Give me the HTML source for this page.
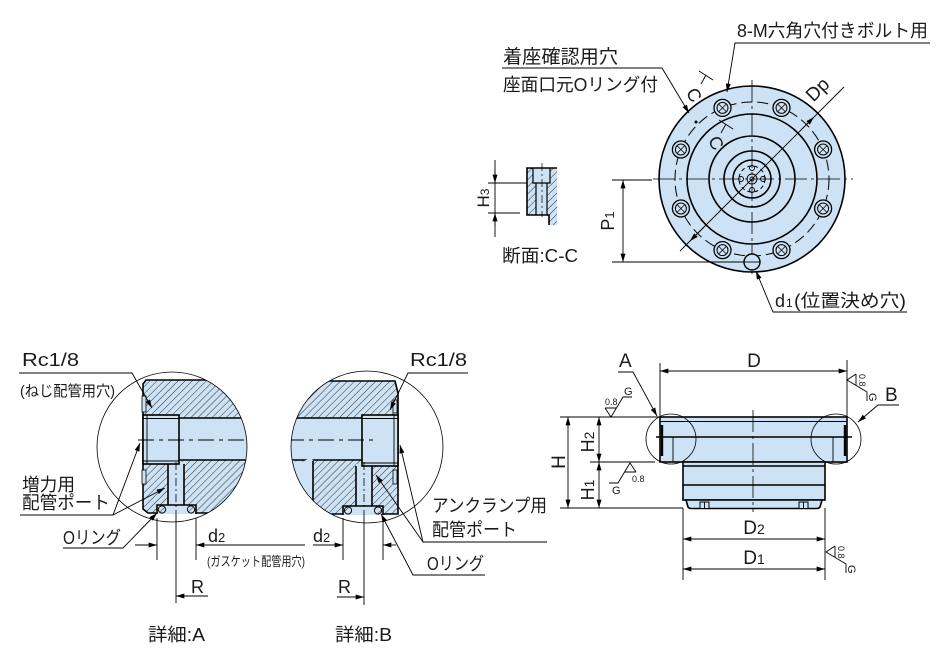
<!DOCTYPE html>
<html><head><meta charset="utf-8"><style>
html,body{margin:0;padding:0;background:#fff;}
svg{display:block;}
.t{stroke:#000;stroke-width:.9;fill:none}
.k{stroke:#000;stroke-width:1.6;fill:none}
.c{stroke:#000;stroke-width:.8;fill:none;stroke-dasharray:22 4 3 4}
text{fill:#1a1a1a;font-family:"Liberation Sans","Noto Sans CJK JP",sans-serif}
</style></head><body>
<svg width="950" height="658" viewBox="0 0 950 658" xmlns="http://www.w3.org/2000/svg">
<defs>
<marker id="ar" viewBox="0 0 10 6" refX="10" refY="3" markerWidth="9" markerHeight="5" markerUnits="userSpaceOnUse" orient="auto-start-reverse"><path d="M0,0L10,3L0,6z" fill="#000"/></marker>
<pattern id="h" width="5" height="5" patternUnits="userSpaceOnUse" patternTransform="rotate(45)"><rect width="5" height="5" fill="#cde3f5"/><line x1="0" y1="0" x2="0" y2="5" stroke="#000" stroke-width="0.8"/></pattern>
<clipPath id="ca"><circle cx="172" cy="447" r="75"/></clipPath>
<clipPath id="cb"><circle cx="367" cy="447" r="76"/></clipPath>
<g id="bolt"><circle r="8.5" fill="#cde3f5" stroke="#000" stroke-width="1.3"/><circle r="5.5" fill="none" stroke="#000" stroke-width="1"/><path d="M-3.5,-3.5L3.5,3.5M-3.5,3.5L3.5,-3.5" stroke="#000" stroke-width=".8"/></g>
<g id="sf"><path d="M-6,-9H5.4M-6,-9L0,0L12,-20H21" fill="none" stroke="#000" stroke-width=".9"/></g>
</defs>

<!-- ============ PLAN VIEW ============ -->
<circle cx="752" cy="179" r="93" fill="#cde3f5" stroke="#000" stroke-width="1.6"/>
<circle cx="752" cy="179" r="77" fill="none" stroke="#000" stroke-width="1" stroke-dasharray="11 5"/>
<circle cx="752" cy="179" r="65" class="k"/>
<circle cx="752" cy="179" r="43" class="k"/>
<circle cx="752" cy="179" r="28" class="k"/>
<circle cx="752" cy="179" r="19" class="k"/>
<circle cx="752" cy="179" r="13" fill="none" stroke="#000" stroke-width="1" stroke-dasharray="4 3"/>
<circle cx="741" cy="179" r="2.5" class="t"/><circle cx="763" cy="179" r="2.5" class="t"/>
<circle cx="752" cy="168" r="2.5" class="t"/><circle cx="752" cy="190" r="2.5" class="t"/>
<circle cx="752" cy="179" r="5" class="t"/>
<circle cx="752" cy="179" r="2" class="t"/>
<line x1="653" y1="179" x2="853" y2="179" class="c"/>
<line x1="752" y1="80" x2="752" y2="276" class="c"/>
<use href="#bolt" x="781.5" y="107.9"/>
<use href="#bolt" x="823.1" y="149.5"/>
<use href="#bolt" x="823.1" y="208.5"/>
<use href="#bolt" x="781.5" y="250.1"/>
<use href="#bolt" x="722.5" y="107.9"/>
<use href="#bolt" x="680.9" y="149.5"/>
<use href="#bolt" x="680.9" y="208.5"/>
<use href="#bolt" x="722.5" y="250.1"/>
<circle cx="752" cy="262" r="8" fill="#cde3f5" stroke="#000" stroke-width="1.4"/>
<line x1="744" y1="262" x2="760" y2="262" class="t"/>
<!-- Dp -->
<line x1="844" y1="87" x2="680" y2="251" class="t"/>
<line x1="800" y1="131" x2="814" y2="117" class="t" marker-end="url(#ar)"/>
<line x1="704" y1="227" x2="690" y2="241" class="t" marker-end="url(#ar)"/>
<text transform="translate(822,94) rotate(-45)" font-size="19" text-anchor="middle">Dp</text>
<!-- C marks -->
<path d="M699,71 L713,80 M706,75 L701,84" class="t"/>
<text transform="translate(694,95) rotate(60)" font-size="18" text-anchor="middle" dy="6">C</text>
<path d="M719,120 L733,129 M726,124 L721,133" class="t"/>
<text transform="translate(716,143) rotate(60)" font-size="18" text-anchor="middle" dy="6">C</text>
<circle cx="696" cy="122" r="1.5" fill="#000"/>
<!-- P1 -->
<line x1="612" y1="180" x2="652" y2="180" class="t"/>
<line x1="612" y1="262" x2="744" y2="262" class="t"/>
<line x1="623" y1="180" x2="623" y2="262" class="t" marker-start="url(#ar)" marker-end="url(#ar)"/>
<text transform="translate(614,221) rotate(-90)" font-size="18" text-anchor="middle">P<tspan font-size="13">1</tspan></text>
<!-- leaders top -->
<polyline points="502,68 662,68 689,113" class="t" marker-end="url(#ar)"/>
<text x="503" y="63" font-size="19" textLength="115" lengthAdjust="spacingAndGlyphs">着座確認用穴</text>
<text x="503" y="91" font-size="18" textLength="155" lengthAdjust="spacingAndGlyphs">座面口元Oリング付</text>
<polyline points="930,43 735,43 727,92" class="t" marker-end="url(#ar)"/>
<text x="737" y="37" font-size="18" textLength="191" lengthAdjust="spacingAndGlyphs">8-M六角穴付きボルト用</text>
<polyline points="907,312 773,312 756,271" class="t" marker-end="url(#ar)"/>
<text x="775" y="307" font-size="18">d</text>
<text x="786" y="307" font-size="12">1</text>
<text x="794" y="307" font-size="18" textLength="112" lengthAdjust="spacingAndGlyphs">(位置決め穴)</text>

<!-- C-C section -->
<path d="M527,168 H533 V183 H536 V215 H527 Z" fill="url(#h)"/>
<path d="M550,168 H557 V225 H549 V215 H547 V183 H550 Z" fill="url(#h)"/>
<rect x="533" y="168" width="17" height="15" fill="#cde3f5"/>
<rect x="536" y="183" width="11" height="32" fill="#cde3f5"/>
<path d="M557,168 H527 V215 H549 V225" class="k"/>
<path d="M533,168 V183 H550 V168 M536,183 V215 M547,183 V215" fill="none" stroke="#000" stroke-width="1.2"/>
<line x1="542" y1="163" x2="542" y2="217" stroke="#000" stroke-width=".7" stroke-dasharray="8 3 2 3"/>
<line x1="495" y1="160" x2="495" y2="237" class="t"/>
<line x1="495" y1="170" x2="495" y2="183" class="t" marker-end="url(#ar)"/>
<line x1="495" y1="226" x2="495" y2="213" class="t" marker-end="url(#ar)"/>
<line x1="488" y1="183" x2="527" y2="183" class="t"/>
<line x1="488" y1="213" x2="520" y2="213" class="t"/>
<text transform="translate(489,198) rotate(-90)" font-size="17" text-anchor="middle">H<tspan font-size="12">3</tspan></text>
<text x="502" y="262" font-size="18" textLength="76" lengthAdjust="spacingAndGlyphs">断面:C-C</text>

<!-- ============ DETAIL A ============ -->
<g clip-path="url(#ca)">
<path d="M146,380 H260 V513 H148 L143,509 V384 Z" fill="url(#h)" stroke="#000" stroke-width="1.6"/>
<rect x="179" y="418" width="90" height="42" fill="#cde3f5"/>
<path d="M179,418 H260 M179,460 H260" class="k"/>
<rect x="142" y="396" width="4" height="16" fill="#cde3f5" stroke="#000" stroke-width=".8"/>
<rect x="142" y="470" width="4" height="14" fill="#cde3f5" stroke="#000" stroke-width=".8"/>
<rect x="168" y="462" width="16" height="45" fill="#cde3f5"/>
<path d="M168,464 V506 M184,464 V506" class="k"/>
<rect x="143" y="415" width="36" height="49" fill="#cde3f5" stroke="#000" stroke-width="1.6"/>
<path d="M147,415 V464 M143,418.5 H179 M143,461 H179" class="t"/>
<rect x="157" y="505" width="39" height="9" fill="#cde3f5"/>
<path d="M157,514 V505 H196 V514" class="k"/>
<circle cx="162" cy="509.5" r="3.6" fill="url(#h)" stroke="#000" stroke-width="1"/>
<circle cx="191" cy="509.5" r="3.6" fill="url(#h)" stroke="#000" stroke-width="1"/>
<line x1="138" y1="440" x2="250" y2="440" stroke="#000" stroke-width="1" stroke-dasharray="16 5 4 5"/>
<line x1="176" y1="462" x2="176" y2="513" stroke="#000" stroke-width=".8" stroke-dasharray="8 3 2 3"/>
</g>
<circle cx="172" cy="447" r="75" fill="none" stroke="#000" stroke-width=".8"/>
<text x="22" y="366" font-size="18" textLength="57" lengthAdjust="spacingAndGlyphs">Rc1/8</text>
<text x="20" y="396" font-size="15" textLength="95" lengthAdjust="spacingAndGlyphs">(ねじ配管用穴)</text>
<polyline points="19,373 132,373 152,408" class="t" marker-end="url(#ar)"/>
<text x="22" y="491" font-size="18" textLength="53" lengthAdjust="spacingAndGlyphs">増力用</text>
<text x="22" y="509" font-size="18" textLength="88" lengthAdjust="spacingAndGlyphs">配管ポート</text>
<polyline points="20,515 113,515 140,443" class="t" marker-end="url(#ar)"/>
<line x1="113" y1="515" x2="165" y2="488" class="t" marker-end="url(#ar)"/>
<text x="63" y="544" font-size="18" textLength="58" lengthAdjust="spacingAndGlyphs">Oリング</text>
<polyline points="63,548 123,548 157,513" class="t" marker-end="url(#ar)"/>
<line x1="157" y1="518" x2="157" y2="560" class="t"/>
<line x1="196" y1="518" x2="196" y2="560" class="t"/>
<line x1="176" y1="513" x2="176" y2="603" class="t"/>
<line x1="135" y1="545" x2="157" y2="545" class="t" marker-end="url(#ar)"/>
<line x1="305" y1="545" x2="196" y2="545" class="t" marker-end="url(#ar)"/>
<text x="208" y="542" font-size="18">d<tspan font-size="13">2</tspan></text>
<text x="207" y="566" font-size="13" textLength="98" lengthAdjust="spacingAndGlyphs">(ガスケット配管用穴)</text>
<line x1="208" y1="596" x2="176" y2="596" class="t" marker-end="url(#ar)"/>
<text x="191" y="593" font-size="18">R</text>
<text x="148" y="641" font-size="18" textLength="57" lengthAdjust="spacingAndGlyphs">詳細:A</text>

<!-- ============ DETAIL B ============ -->
<g clip-path="url(#cb)">
<path d="M280,381 H395 L398,393 V514 H280 Z" fill="url(#h)" stroke="#000" stroke-width="1.6"/>
<rect x="280" y="418" width="82" height="42" fill="#cde3f5"/>
<path d="M280,418 H362 M280,460 H362" class="k"/>
<rect x="393" y="400" width="4" height="13" fill="#cde3f5" stroke="#000" stroke-width=".8"/>
<rect x="393" y="470" width="4" height="14" fill="#cde3f5" stroke="#000" stroke-width=".8"/>
<path d="M292,460 Q300,464 306,460 T313,461 V516 H292 Z" fill="#cde3f5"/>
<path d="M313,461 V514" class="k"/>
<rect x="356" y="464" width="16" height="43" fill="#cde3f5"/>
<path d="M356,466 V506 M372,466 V506" class="k"/>
<rect x="362" y="415" width="36" height="51" fill="#cde3f5" stroke="#000" stroke-width="1.6"/>
<path d="M394,415 V466 M362,418.5 H398 M362,463 H398" class="t"/>
<rect x="343" y="506" width="40" height="9" fill="#cde3f5"/>
<path d="M343,515 V506 H383 V515" class="k"/>
<circle cx="348" cy="510.5" r="3.6" fill="url(#h)" stroke="#000" stroke-width="1"/>
<circle cx="378" cy="510.5" r="3.6" fill="url(#h)" stroke="#000" stroke-width="1"/>
<line x1="288" y1="440" x2="374" y2="440" stroke="#000" stroke-width="1" stroke-dasharray="16 5 4 5"/>
<line x1="364" y1="462" x2="364" y2="514" stroke="#000" stroke-width=".8" stroke-dasharray="8 3 2 3"/>
</g>
<circle cx="367" cy="447" r="76" fill="none" stroke="#000" stroke-width=".8"/>
<text x="410" y="366" font-size="18" textLength="57" lengthAdjust="spacingAndGlyphs">Rc1/8</text>
<polyline points="468,373 408,373 390,410" class="t" marker-end="url(#ar)"/>
<text x="432" y="512" font-size="18" textLength="115" lengthAdjust="spacingAndGlyphs">アンクランプ用</text>
<text x="432" y="536" font-size="18" textLength="85" lengthAdjust="spacingAndGlyphs">配管ポート</text>
<polyline points="547,542 423,542 400,445" class="t" marker-end="url(#ar)"/>
<line x1="423" y1="542" x2="376" y2="475" class="t" marker-end="url(#ar)"/>
<text x="427" y="570" font-size="18" textLength="57" lengthAdjust="spacingAndGlyphs">Oリング</text>
<polyline points="485,575 413,575 381,514" class="t" marker-end="url(#ar)"/>
<line x1="343" y1="518" x2="343" y2="560" class="t"/>
<line x1="383" y1="518" x2="383" y2="560" class="t"/>
<line x1="364" y1="514" x2="364" y2="605" class="t"/>
<line x1="313" y1="545" x2="343" y2="545" class="t" marker-end="url(#ar)"/>
<line x1="396" y1="545" x2="383" y2="545" class="t" marker-end="url(#ar)"/>
<text x="313" y="542" font-size="18">d<tspan font-size="13">2</tspan></text>
<line x1="337" y1="597" x2="364" y2="597" class="t" marker-end="url(#ar)"/>
<text x="338" y="593" font-size="18">R</text>
<text x="335" y="641" font-size="18" textLength="57" lengthAdjust="spacingAndGlyphs">詳細:B</text>

<!-- ============ FRONT VIEW ============ -->
<rect x="660" y="417" width="187" height="45" fill="#cde3f5" stroke="#000" stroke-width="1.6"/>
<line x1="660" y1="421.5" x2="847" y2="421.5" class="t"/>
<line x1="656" y1="437" x2="852" y2="437" stroke="#000" stroke-width="1.6"/>
<path d="M662,425 V456 M845,425 V456" stroke="#000" stroke-width="2.4"/>
<path d="M673,437 V462 M833,437 V462" class="t"/>
<rect x="683" y="462" width="142" height="38" fill="#cde3f5" stroke="#000" stroke-width="1.6"/>
<line x1="683" y1="466" x2="825" y2="466" stroke="#000" stroke-width="1.4"/>
<line x1="683" y1="485" x2="825" y2="485" stroke="#000" stroke-width="1.6"/>
<path d="M686,500 H822 L820,507 Q819,508.5 817,508.5 H691 Q689,508.5 688,507 Z" fill="#cde3f5" stroke="#000" stroke-width="1.6"/>
<rect x="700" y="502" width="9" height="6.5" fill="#cde3f5" stroke="#000" stroke-width="1"/>
<line x1="704.5" y1="502" x2="704.5" y2="508.5" class="t"/>
<rect x="799" y="502" width="9" height="6.5" fill="#cde3f5" stroke="#000" stroke-width="1"/>
<line x1="803.5" y1="502" x2="803.5" y2="508.5" class="t"/>
<line x1="753" y1="410" x2="753" y2="512" class="c"/>
<circle cx="671" cy="439" r="25" fill="none" stroke="#000" stroke-width=".8"/>
<circle cx="836" cy="439" r="25" fill="none" stroke="#000" stroke-width=".8"/>
<!-- D -->
<line x1="660" y1="363" x2="660" y2="417" class="t"/>
<line x1="847" y1="360" x2="847" y2="417" class="t"/>
<line x1="660" y1="371" x2="847" y2="371" class="t" marker-start="url(#ar)" marker-end="url(#ar)"/>
<text x="754" y="367" font-size="19" text-anchor="middle">D</text>
<!-- A/B -->
<polyline points="618,372 633,372 657,416" class="t" marker-end="url(#ar)"/>
<text x="619" y="367" font-size="19">A</text>
<polyline points="899,405 878,405 858,422" class="t" marker-end="url(#ar)"/>
<text x="885" y="401" font-size="19">B</text>
<!-- H dims -->
<line x1="560" y1="417" x2="660" y2="417" class="t"/>
<line x1="590" y1="462" x2="655" y2="462" class="t"/>
<line x1="560" y1="508" x2="683" y2="508" class="t"/>
<line x1="568" y1="417" x2="568" y2="508" class="t" marker-start="url(#ar)" marker-end="url(#ar)"/>
<line x1="599" y1="417" x2="599" y2="462" class="t" marker-start="url(#ar)" marker-end="url(#ar)"/>
<line x1="599" y1="462" x2="599" y2="508" class="t" marker-start="url(#ar)" marker-end="url(#ar)"/>
<text transform="translate(565,462) rotate(-90)" font-size="19" text-anchor="middle">H</text>
<text transform="translate(594,442) rotate(-90)" font-size="18" text-anchor="middle">H<tspan font-size="14">2</tspan></text>
<text transform="translate(594,490) rotate(-90)" font-size="18" text-anchor="middle">H<tspan font-size="14">1</tspan></text>
<!-- surface symbols -->
<use href="#sf" transform="translate(611,417)"/>
<text x="605" y="405" font-size="9">0.8</text>
<text x="624" y="395" font-size="11">G</text>
<use href="#sf" transform="translate(630,463) rotate(180)"/>
<text x="632" y="482" font-size="9">0.8</text>
<text x="612" y="494" font-size="11">G</text>
<g transform="translate(847,380) rotate(90)">
<use href="#sf"/>
<text x="-6" y="-12" font-size="9">0.8</text>
<text x="13" y="-22" font-size="11">G</text>
</g>
<g transform="translate(826,552) rotate(90)">
<use href="#sf"/>
<text x="-6" y="-12" font-size="9">0.8</text>
<text x="13" y="-22" font-size="11">G</text>
</g>
<!-- D2 D1 -->
<line x1="683" y1="508" x2="683" y2="580" class="t"/>
<line x1="825" y1="508" x2="825" y2="580" class="t"/>
<line x1="683" y1="539" x2="825" y2="539" class="t" marker-start="url(#ar)" marker-end="url(#ar)"/>
<line x1="683" y1="569" x2="825" y2="569" class="t" marker-start="url(#ar)" marker-end="url(#ar)"/>
<text x="754" y="534" font-size="19" text-anchor="middle">D<tspan font-size="14">2</tspan></text>
<text x="754" y="564" font-size="19" text-anchor="middle">D<tspan font-size="14">1</tspan></text>
</svg>
</body></html>
